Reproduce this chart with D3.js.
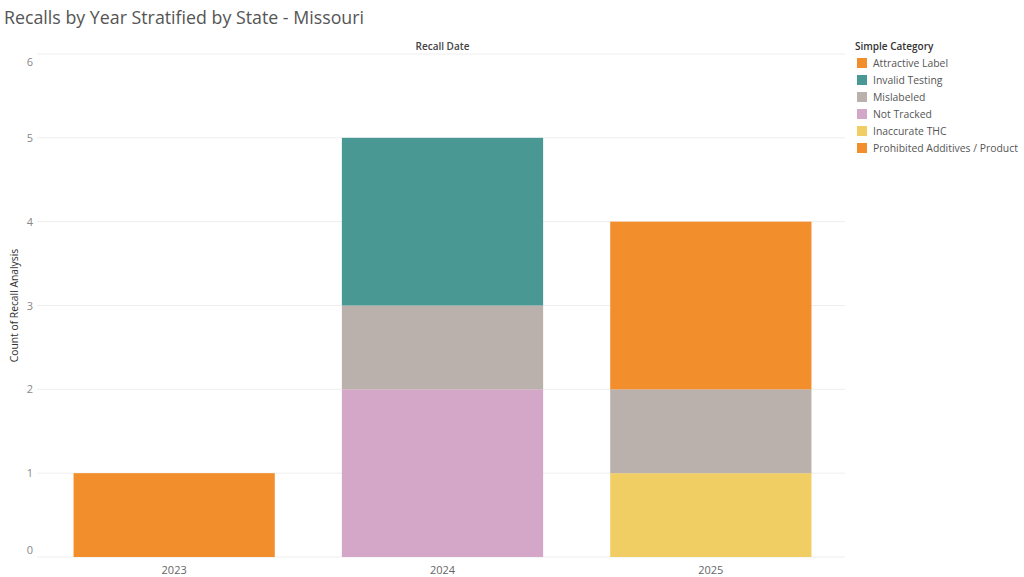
<!DOCTYPE html>
<html>
<head>
<meta charset="utf-8">
<script src="https://cdn.jsdelivr.net/npm/d3@7"></script>
<style>
  body { margin: 0; background: #fff; font-family: "Open Sans", "Noto Sans", sans-serif; }
  text { font-family: "Open Sans", "Noto Sans", sans-serif; }
</style>
</head>
<body>
<div id="chart-container"></div>
<script>
// Data
const years = ["2023", "2024", "2025"];
const categories = ["Attractive Label", "Invalid Testing", "Mislabeled", "Not Tracked", "Inaccurate THC", "Prohibited Additives / Product"];
const colors = ["#F28E2B", "#499894", "#BAB0AC", "#D4A6C8", "#F1CE63", "#F28E2B"];
// counts per category, one value per year
const attractiveLabel = [0, 0, 2];
const invalidTesting = [0, 2, 0];
const mislabeled = [0, 1, 1];
const notTracked = [0, 2, 0];
const inaccurateTHC = [0, 0, 1];
const prohibitedAdditives = [1, 0, 0];
const yTicks = [0, 1, 2, 3, 4, 5, 6];

const series = [attractiveLabel, invalidTesting, mislabeled, notTracked, inaccurateTHC, prohibitedAdditives];

const width = 1024, height = 577;
const svg = d3.select("#chart-container").append("svg")
  .attr("width", width).attr("height", height);

// Scales
const x = d3.scaleBand().domain(years).range([40, 845]).paddingInner(0.25).paddingOuter(0.125);
const y = d3.scaleLinear().domain([0, 6]).range([557, 54]);
const color = d3.scaleOrdinal().domain(categories).range(colors);

// Table for stacking
const table = years.map((yr, i) => {
  const row = { year: yr };
  categories.forEach((c, j) => row[c] = series[j][i]);
  return row;
});
// Tableau stacks from the last legend item at the bottom
const stack = d3.stack().keys(categories.slice().reverse());
const stacked = stack(table);

// Title
svg.append("text")
  .text("Recalls by Year Stratified by State - Missouri")
  .attr("x", 4).attr("y", 24)
  .attr("font-size", 17.8).attr("fill", "#555");

// Header
svg.append("text")
  .text("Recall Date")
  .attr("x", (40 + 845) / 2).attr("y", 50)
  .attr("text-anchor", "middle")
  .attr("font-size", 10).attr("font-weight", 600).attr("fill", "#444");

// Gridlines
svg.append("g").selectAll("line")
  .data(yTicks)
  .join("line")
    .attr("x1", 37).attr("x2", 845)
    .attr("y1", d => y(d)).attr("y2", d => y(d))
    .attr("stroke", "#eeeeee").attr("stroke-width", 1);

// Y tick labels
svg.append("g").selectAll("text")
  .data(yTicks)
  .join("text")
  .text(d => d)
    .attr("x", 33)
    .attr("y", d => d === 6 ? y(d) + 12 : d === 0 ? y(d) - 3 : y(d) + 4)
    .attr("text-anchor", "end")
    .attr("font-size", 11).attr("fill", "#888");

// Y axis title
svg.append("text")
  .text("Count of Recall Analysis")
  .attr("transform", `translate(18, ${y(3)}) rotate(-90)`)
  .attr("text-anchor", "middle")
  .attr("font-size", 10.3).attr("fill", "#333");

// Bars
svg.append("g").selectAll("g")
  .data(stacked)
  .join("g")
    .attr("fill", d => color(d.key))
  .selectAll("rect")
  .data(d => d)
  .join("rect")
    .attr("x", d => x(d.data.year))
    .attr("width", x.bandwidth())
    .attr("y", d => y(d[1]))
    .attr("height", d => y(d[0]) - y(d[1]));

// X labels
svg.append("g").selectAll("text")
  .data(years)
  .join("text")
  .text(d => d)
    .attr("x", d => x(d) + x.bandwidth() / 2)
    .attr("y", 574)
    .attr("text-anchor", "middle")
    .attr("font-size", 11).attr("fill", "#666");

// Legend
const legend = svg.append("g").attr("transform", "translate(855, 0)");
legend.append("text")
  .text("Simple Category")
  .attr("x", 0).attr("y", 50)
  .attr("font-size", 10).attr("font-weight", 600).attr("fill", "#333");
const item = legend.selectAll(".item")
  .data(categories)
  .join("g")
    .attr("class", "item")
    .attr("transform", (d, i) => `translate(0, ${58 + i * 17})`);
item.append("rect")
  .attr("x", 2).attr("y", 0)
  .attr("width", 10).attr("height", 10)
  .attr("fill", d => color(d));
item.append("text")
  .text(d => d)
    .attr("x", 18).attr("y", 9)
    .attr("font-size", 10.4).attr("fill", "#555");
</script>
</body>
</html>
